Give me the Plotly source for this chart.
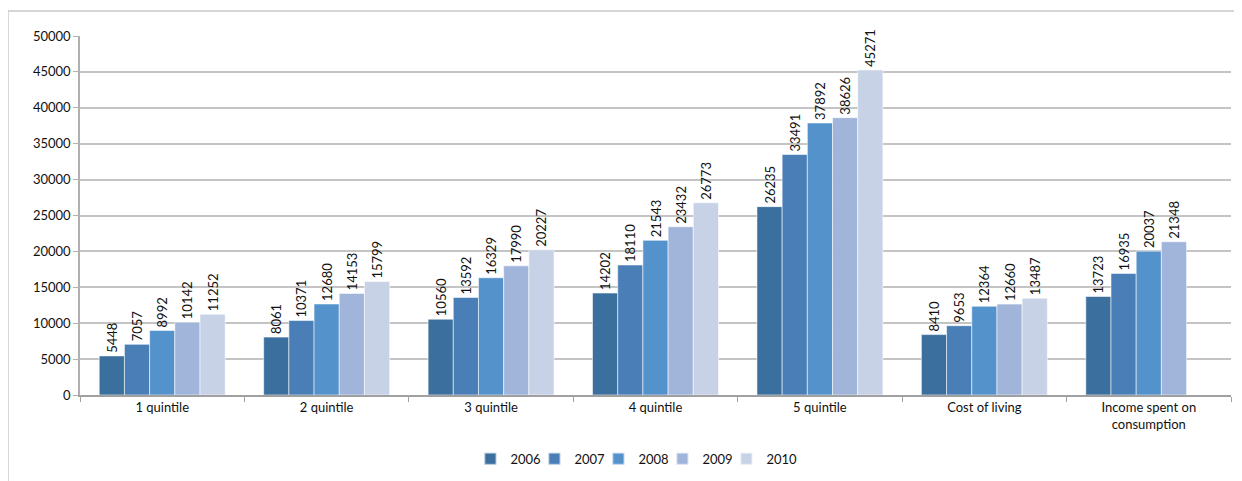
import plotly.graph_objects as go

categories = ["1 quintile", "2 quintile", "3 quintile", "4 quintile", "5 quintile",
              "Cost of living", "Income spent on<br>consumption"]
years = ["2006", "2007", "2008", "2009", "2010"]
values = {
    "2006": [5448, 8061, 10560, 14202, 26235, 8410, 13723],
    "2007": [7057, 10371, 13592, 18110, 33491, 9653, 16935],
    "2008": [8992, 12680, 16329, 21543, 37892, 12364, 20037],
    "2009": [10142, 14153, 17990, 23432, 38626, 12660, 21348],
    "2010": [11252, 15799, 20227, 26773, 45271, 13487, None],
}
colors = {"2006": "#3B6F9E", "2007": "#4A7EB6", "2008": "#5492CC",
          "2009": "#A1B5DA", "2010": "#C7D2E6"}
y_ticks = [0, 5000, 10000, 15000, 20000, 25000, 30000, 35000, 40000, 45000, 50000]
y_tick_labels = [str(v) for v in y_ticks]

fig = go.Figure()
for yr in years:
    vals = values[yr]
    fig.add_trace(go.Bar(
        name=yr, x=categories, y=vals,
        marker=dict(color=colors[yr], line=dict(color="rgba(255,255,255,0.55)", width=1)),
        text=[("" if v is None else str(v)) for v in vals],
        textposition="outside", textangle=-90, constraintext="none",
        cliponaxis=False,
        textfont=dict(family="Lato, Open Sans, sans-serif", size=13, color="#111111"),
    ))
# empty spacer entry so the last legend label is not clipped
fig.add_trace(go.Scatter(x=[None], y=[None], mode="markers", name=" ",
                         marker=dict(color="rgba(0,0,0,0)", size=1,
                                     line=dict(width=0, color="rgba(0,0,0,0)")),
                         hoverinfo="skip"))

fig.update_layout(
    width=1234, height=473,
    paper_bgcolor="white", plot_bgcolor="white",
    margin=dict(l=72, r=11, t=28, b=86, autoexpand=False),
    barmode="group", bargap=0.234, bargroupgap=0,
    font=dict(family="Lato, Open Sans, sans-serif", size=12, color="#111111"),
    showlegend=True,
    legend=dict(orientation="h", x=0.506, xanchor="center", y=-0.136, yanchor="top",
                font=dict(size=13), itemwidth=30, traceorder="normal",
                itemsizing="constant", entrywidth=19, entrywidthmode="pixels"),
    shapes=[dict(type="rect", xref="paper", yref="paper",
                 x0=-0.0626, x1=1.05, y0=-0.5, y1=1.0696,
                 line=dict(color="#C8C8C8", width=1.5), fillcolor="rgba(0,0,0,0)",
                 layer="below")],
)
fig.update_yaxes(range=[0, 50000], tickvals=y_ticks, ticktext=y_tick_labels,
                 showgrid=True, automargin=False,
                 gridcolor="#C4C4C4", gridwidth=1.5, showline=True,
                 linecolor="#B0B0B0", linewidth=1.5, ticks="outside",
                 ticklen=5, tickcolor="#B0B0B0", zeroline=False,
                 tickfont=dict(size=13))
fig.update_xaxes(showline=True, linecolor="#A0A0A0", linewidth=1.5, automargin=False,
                 ticks="outside", tickson="boundaries", ticklen=5,
                 tickcolor="#A0A0A0", tickfont=dict(size=13))

fig.write_html("out.html")
